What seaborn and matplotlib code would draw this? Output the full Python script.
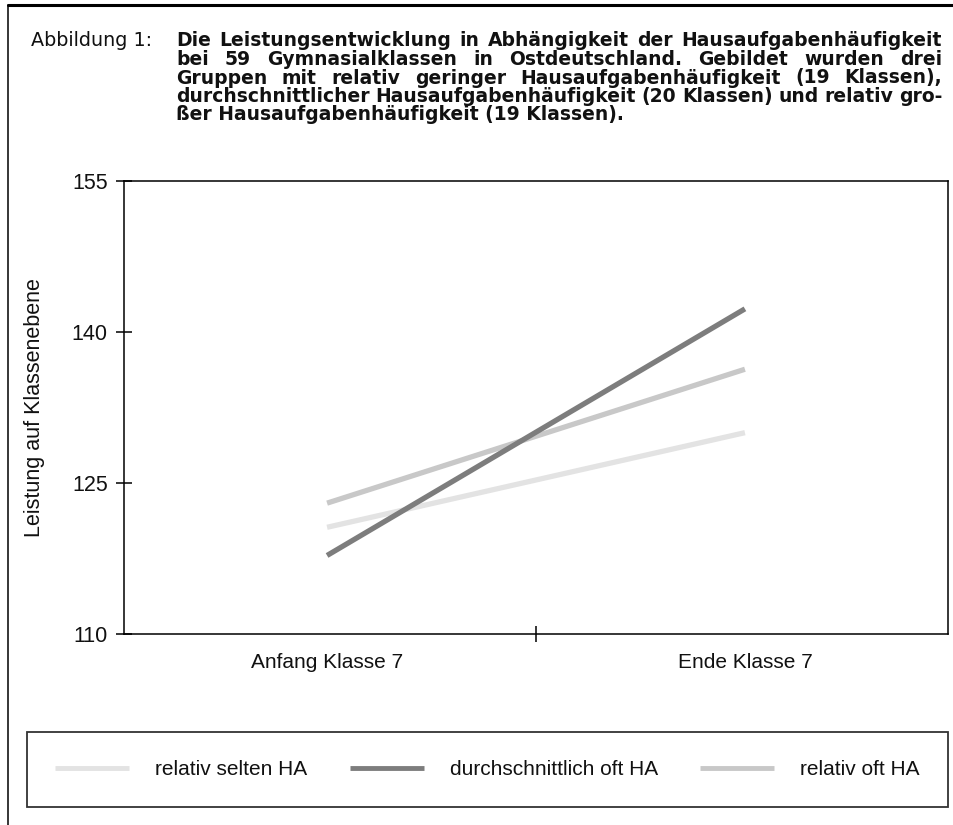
import numpy as np
import pandas as pd
import matplotlib
matplotlib.use("Agg")
import matplotlib.pyplot as plt
import seaborn as sns
from matplotlib.lines import Line2D

# ---------------- data ----------------
zeitpunkte = ["Anfang Klasse 7", "Ende Klasse 7"]
gruppen = ["relativ selten HA", "durchschnittlich oft HA", "relativ oft HA"]
selten = [120.6, 130.0]
durchschnittlich = [117.8, 142.3]
oft = [123.0, 136.3]
y_ticks = [110, 125, 140, 155]
y_label = "Leistung auf Klassenebene"
fig_label = "Abbildung 1:"
title_lines = [
    "Die Leistungsentwicklung in Abhängigkeit der Hausaufgabenhäufigkeit",
    "bei 59 Gymnasialklassen in Ostdeutschland. Gebildet wurden drei",
    "Gruppen mit relativ geringer Hausaufgabenhäufigkeit (19 Klassen),",
    "durchschnittlicher Hausaufgabenhäufigkeit (20 Klassen) und relativ gro-",
    "ßer Hausaufgabenhäufigkeit (19 Klassen).",
]
farben = ["#e3e3e3", "#7d7d7d", "#c8c8c8"]

# ---------------- setup ----------------
W, H, DPI = 954, 825, 100
sns.set_theme(style="white")
plt.rcParams["font.family"] = ["Liberation Sans", "DejaVu Sans"]

fig = plt.figure(figsize=(W / DPI, H / DPI), dpi=DPI)
fig.patch.set_facecolor("white")


def fx(px):
    return px / W


def fy(py):
    return 1 - py / H


AX_L, AX_R, AX_T, AX_B = 124, 948, 181, 634
ax = fig.add_axes([fx(AX_L), fy(AX_B), (AX_R - AX_L) / W, (AX_B - AX_T) / H])

df = pd.DataFrame({
    "Position": list(range(len(zeitpunkte))) * 3,
    "Gruppe": np.repeat(gruppen, len(zeitpunkte)),
    "Leistung": selten + durchschnittlich + oft,
})
palette = dict(zip(gruppen, farben))
sns.lineplot(data=df, x="Position", y="Leistung", hue="Gruppe",
             hue_order=gruppen, palette=palette, linewidth=3.8,
             ax=ax, sort=False, solid_capstyle="butt")
for ln in ax.lines:
    if matplotlib.colors.to_hex(ln.get_color()) == farben[1]:
        ln.set_zorder(4)

ax.set_xlim(-0.486, 1.486)
ax.set_ylim(y_ticks[0], y_ticks[-1])
ax.set_yticks(y_ticks)
ax.set_xticks(range(len(zeitpunkte)), zeitpunkte)
ax.set_xticks([0.5], minor=True)
ax.set_xlabel("")
ax.set_ylabel(y_label, fontsize=15.5, color="#111111")
ax.yaxis.set_label_coords((45 - AX_L) / (AX_R - AX_L), 0.5)

for sp in ax.spines.values():
    sp.set_visible(True)
    sp.set_color("black")
    sp.set_linewidth(1.1)

ax.tick_params(axis="y", which="major", left=True, direction="inout",
               length=11.5, width=1.1, color="black", labelsize=15.5,
               labelcolor="#111111", pad=6)
ax.tick_params(axis="x", which="major", bottom=False, length=0,
               labelsize=15, labelcolor="#111111", pad=14)
ax.tick_params(axis="x", which="minor", bottom=True, direction="inout",
               length=11.5, width=1.1, color="black")

# ---------------- legend ----------------
handles, labels = ax.get_legend_handles_labels()
if ax.get_legend() is not None:
    ax.get_legend().remove()
LG_L, LG_R, LG_T, LG_B = 27, 948, 727, 812
leg = fig.legend(handles, labels, loc="center",
                 bbox_to_anchor=(fx(LG_L), fy(LG_B), (LG_R - LG_L) / W, (LG_B - LG_T) / H),
                 bbox_transform=fig.transFigure, mode="expand", ncol=3,
                 frameon=True, fancybox=False, edgecolor="black",
                 handlelength=3.55, handletextpad=1.25, fontsize=15,
                 borderaxespad=0, borderpad=1.35)
leg.get_frame().set_linewidth(1.3)
for t in leg.get_texts():
    t.set_color("#111111")
for lh in leg.get_lines():
    lh.set_linewidth(3.5)

# ---------------- title block ----------------
renderer = fig.canvas.get_renderer()
TITLE_FONT = ["DejaVu Sans"]
T_L, T_R = 176, 942


def text_width(s, size, weight):
    t = fig.text(0, 0, s, fontsize=size, fontweight=weight, family=TITLE_FONT)
    w = t.get_window_extent(renderer).width
    t.remove()
    return w


# choose the size so that the widest justified line still fits with normal spaces
fits = [13 * (T_R - T_L) / text_width(l, 13, "bold") for l in title_lines[:-1]]
TITLE_SIZE = min(14.0, max(11.5, min(fits) * 0.995))

fig.text(fx(31), fy(46.5), fig_label, fontsize=TITLE_SIZE + 0.3, family=TITLE_FONT,
         ha="left", va="baseline", color="#111111")

baselines = [46.5, 65, 83.5, 102, 120.5]
for i, line in enumerate(title_lines):
    base = baselines[i]
    if i == len(title_lines) - 1:
        fig.text(fx(T_L), fy(base), line, fontsize=TITLE_SIZE, fontweight="bold",
                 family=TITLE_FONT, ha="left", va="baseline", color="#111111")
        continue
    words = line.split(" ")
    widths = [text_width(w, TITLE_SIZE, "bold") for w in words]
    gap = (T_R - T_L - sum(widths)) / (len(words) - 1)
    x = T_L
    for w, wd in zip(words, widths):
        fig.text(fx(x), fy(base), w, fontsize=TITLE_SIZE, fontweight="bold",
                 family=TITLE_FONT, ha="left", va="baseline", color="#111111")
        x += wd + gap

# ---------------- outer frame ----------------
fig.add_artist(Line2D([fx(8), 1.0], [fy(5), fy(5)], transform=fig.transFigure,
                      color="black", linewidth=2.2))
fig.add_artist(Line2D([fx(8.5), fx(8.5)], [fy(5), 0.0], transform=fig.transFigure,
                      color="black", linewidth=1.1))

fig.savefig("out.png", dpi=DPI, facecolor="white")
